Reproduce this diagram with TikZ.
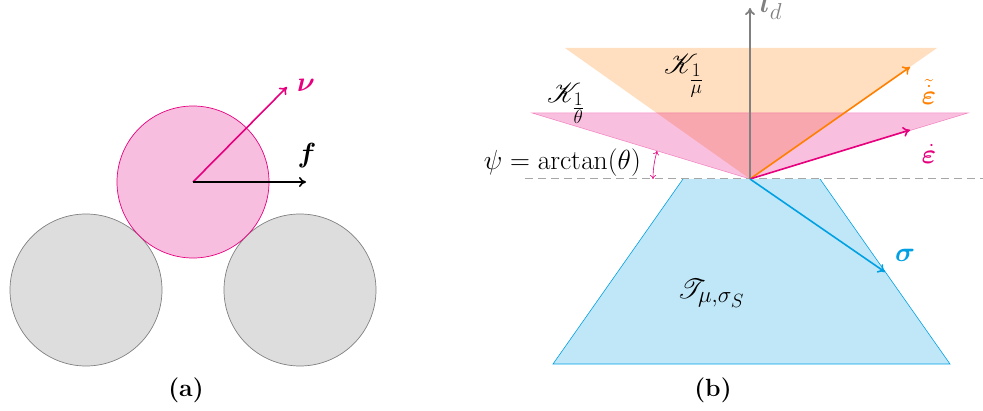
\documentclass[tikz,border=0pt]{standalone}
\usepackage{amsmath,bm,mathrsfs}
\usetikzlibrary{arrows.meta}
\definecolor{mag}{RGB}{230,0,126}
\definecolor{org}{RGB}{255,127,0}
\definecolor{cya}{RGB}{0,160,227}
\definecolor{cfill}{RGB}{221,221,221}
\definecolor{pfill}{RGB}{247,190,224}
\tikzset{
  lab/.style={font=\fontsize{24.88}{30}\selectfont, inner sep=0pt, scale=1.11, transform shape},
  captext/.style={font=\fontsize{24.88}{30}\selectfont\bfseries, inner sep=0pt},
  vec/.style={line width=1.6pt, -{To[length=7pt,width=10pt]}},
  grain/.style={circle, draw=gray, line width=0.7pt, fill=cfill, minimum size=152pt, inner sep=0pt},
}
\begin{document}
\begin{tikzpicture}[x=1pt,y=1pt]
\useasboundingbox (0,0) rectangle (983,410);
% panel (a)
\node[grain] (g1) at (86,120) {};
\node[grain] (g2) at (300,120) {};
\node[circle, draw=mag, line width=0.7pt, fill=pfill, minimum size=152pt, inner sep=0pt] (p) at (193,228) {};
\coordinate (c) at (193,228);
\coordinate (vend) at (287,323);
\coordinate (fend) at (306,228);
\draw[vec, mag] (c) -- (vend);
\draw[vec, black] (c) -- (fend);
\node[lab, text=mag] (nu) at (306,325) {$\bm{\nu}$};
\node[lab] (f) at (307,254) {$\bm{f}$};
\node[captext] (ca) at (186,20) {(a)};
% panel (b)
\coordinate (A) at (750,231);
\coordinate (dl) at (525,231);
\coordinate (dr) at (983,231);
\fill[org, opacity=0.25] (565,362) -- (937,362) -- (A) -- cycle;
\fill[mag, opacity=0.25] (532,297) -- (968,297) -- (A) -- cycle;
\draw[mag, opacity=0.4, line width=0.5pt] (532,297) -- (968,297) -- (A) -- cycle;
\fill[cya, opacity=0.25] (683,231) -- (820,231) -- (950,46) -- (553,46) -- cycle;
\draw[cya, line width=0.6pt] (683,231) -- (553,46) -- (950,46) -- (820,231);
\draw[gray!70, line width=1pt, dash pattern=on 8pt off 5pt] (dl) -- (dr);
\coordinate (lend) at (750,402);
\draw[line width=1.8pt, gray, -{To[length=7pt,width=10pt]}] (A) -- (lend);
\node[lab, text=gray, anchor=base west] (ld) at (760,397) {$\bm{l}_d$};
\coordinate (eo) at (910,343);
\coordinate (ep) at (910,280);
\coordinate (es) at (885,138);
\draw[vec, org] (A) -- (eo);
\draw[vec, mag] (A) -- (ep);
\draw[vec, cya] (A) -- (es);
\node[lab, text=org] (lo) at (929,318) {$\tilde{\dot{\bm{\varepsilon}}}$};
\node[lab, text=mag] (lp) at (929,256) {$\dot{\bm{\varepsilon}}$};
\node[lab, text=cya] (ls) at (905,155) {$\bm{\sigma}$};
\node[lab] (kmu) at (684,334) {$\mathscr{K}_{\frac{1}{\mu}}$};
\node[lab] (kth) at (566,307) {$\mathscr{K}_{\frac{1}{\theta}}$};
\node[lab] (tt) at (711,117) {$\mathscr{T}_{\mu,\sigma_S}$};
\node[lab, anchor=base east] (psi) at (641,240) {$\psi=\arctan(\theta)$};
\draw[mag, line width=0.6pt, {To[length=4pt,width=6pt]}-{To[length=4pt,width=6pt]}] (653,231) arc[start angle=180, end angle=163.16, radius=97];
\node[captext] (cb) at (713,20) {(b)};
\end{tikzpicture}
\end{document}
